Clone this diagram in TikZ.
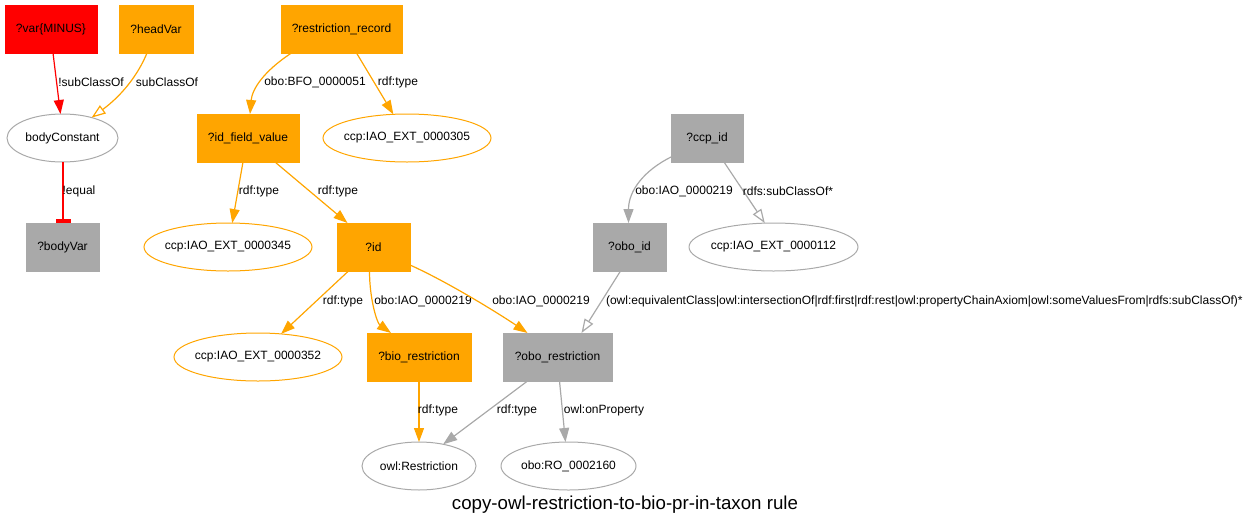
\documentclass[tikz,border=0pt]{standalone}
\usepackage{fontspec}
\setmainfont{Liberation Sans}
\usetikzlibrary{arrows.meta,shapes.geometric,calc}
\definecolor{gvorange}{HTML}{FFA500}
\definecolor{gvgray}{HTML}{A9A9A9}
\definecolor{gvred}{HTML}{FF0000}
\newcommand\zt[1]{\makebox[0pt]{#1}}
\begin{document}
\begin{tikzpicture}[x=1pt,y=-1pt,
 every node/.style={font=\fontsize{12}{14}\selectfont, inner sep=0pt, outer sep=0pt},
 box/.style={rectangle, minimum height=48pt, line width=1pt},
 orbox/.style={box, fill=gvorange, draw=gvorange},
 grbox/.style={box, fill=gvgray, draw=gvgray},
 rdbox/.style={box, fill=gvred, draw=gvred},
 oval/.style={ellipse, minimum height=48pt, draw, line width=1pt},
 orval/.style={oval, draw=gvorange},
 grval/.style={oval, draw=gvgray},
 oarr/.style={color=gvorange, line width=1.2pt, -{Triangle[length=14pt,width=10pt]}},
 garr/.style={color=gvgray, line width=1.2pt, -{Triangle[length=14pt,width=10pt]}},
 rarr/.style={color=gvred, line width=1.2pt, -{Triangle[length=14pt,width=10pt]}},
 ohol/.style={color=gvorange, line width=1.2pt, -{Triangle[open,length=14pt,width=10pt]}},
 ghol/.style={color=gvgray, line width=1.2pt, -{Triangle[open,length=14pt,width=10pt]}},
 rtee/.style={color=gvred, line width=1.3pt, -{Rectangle[length=4pt,width=15pt]}},
 lbl/.style={text=black}
]
\useasboundingbox (0,0) rectangle (1250,528);
% nodes
\node[rdbox, minimum width=92pt] (var) at (51,29) {?var\{MINUS\}};
\node[orbox, minimum width=74pt] (headVar) at (156,29) {?headVar};
\node[orbox, minimum width=121pt] (rr) at (341.5,29) {?restriction\_record};
\node[grval, minimum width=111pt] (bc) at (62.5,138) {\zt{bodyConstant}};
\node[orbox, minimum width=102pt] (idfv) at (248,138) {?id\_field\_value};
\node[orval, minimum width=168pt] (e305) at (407,138) {\zt{ccp:IAO\_EXT\_0000305}};
\node[grbox, minimum width=73pt] (bodyVar) at (62.5,247) {?bodyVar};
\node[orval, minimum width=168pt] (e345) at (228,247) {\zt{ccp:IAO\_EXT\_0000345}};
\node[orbox, minimum width=73pt] (id) at (373.5,247) {?id};
\node[grbox, minimum width=72pt] (ccp) at (707,138) {?ccp\_id};
\node[grbox, minimum width=73pt] (oboid) at (629.5,247) {?obo\_id};
\node[grval, minimum width=169pt] (e112) at (773.5,247) {\zt{ccp:IAO\_EXT\_0000112}};
\node[orval, minimum width=168pt] (e352) at (258,357) {\zt{ccp:IAO\_EXT\_0000352}};
\node[orbox, minimum width=104pt] (bio) at (419,357) {?bio\_restriction};
\node[grbox, minimum width=109pt] (obor) at (557.5,357) {?obo\_restriction};
\node[grval, minimum width=114pt] (restr) at (419,466) {\zt{owl:Restriction}};
\node[grval, minimum width=135pt] (ro) at (568.5,466) {\zt{obo:RO\_0002160}};
\node[font=\fontsize{18.7}{22}\selectfont] (title) at (625,505) {copy-owl-restriction-to-bio-pr-in-taxon rule};
% edges
\draw[rarr] ([xshift=2pt]var.south) -- ([xshift=-2pt]bc.north)
  node[lbl, at={(91,82)}] {!subClassOf};
\draw[ohol] ([xshift=-9pt]headVar.south) .. controls +(-9,22) and +(30,-22) .. (bc.35)
  node[lbl, at={(167,82)}] {subClassOf};
\draw[oarr] ([xshift=-50pt]rr.south) .. controls +(-29,19) and +(2,-24) .. ([xshift=2pt]idfv.north)
  node[lbl, at={(315,82)}] {obo:BFO\_0000051};
\draw[oarr] ([xshift=15pt]rr.south) -- (e305.120)
  node[lbl, at={(398,82)}] {rdf:type};
\draw[rtee] ([xshift=0.5pt]bc.south) -- ([xshift=0.5pt]bodyVar.north)
  node[lbl, at={(79,191)}] {!equal};
\draw[oarr] ([xshift=-5pt]idfv.south) -- (e345.80)
  node[lbl, at={(259,191)}] {rdf:type};
\draw[oarr] ([xshift=27pt]idfv.south) -- ([xshift=-26pt]id.north)
  node[lbl, at={(338,191)}] {rdf:type};
\draw[garr] ([yshift=5pt]ccp.south west) .. controls +(-26,13) and +(0,-33) .. ([xshift=-1pt]oboid.north)
  node[lbl, at={(684,191)}] {obo:IAO\_0000219};
\draw[ghol] ([xshift=17pt]ccp.south) -- (e112.110)
  node[lbl, at={(788,191)}] {rdfs:subClassOf*};
\draw[oarr] ([xshift=-25pt]id.south) -- (e352.45)
  node[lbl, at={(343,301)}] {rdf:type};
\draw[oarr] ([xshift=-4pt]id.south) .. controls +(0,28) and +(-14,-10) .. ([xshift=-28pt]bio.north)
  node[lbl, at={(423,301)}] {obo:IAO\_0000219};
\draw[oarr] ([yshift=-18pt]id.east) .. controls +(40,18) and +(-25,-17) .. ([xshift=-30pt]obor.north)
  node[lbl, at={(541,301)}] {obo:IAO\_0000219};
\draw[ghol] ([xshift=-9pt]oboid.south) -- ([xshift=24pt]obor.north)
  node[lbl, anchor=west, at={(606,301)}] {(owl:equivalentClass|owl:intersectionOf|rdf:first|rdf:rest|owl:propertyChainAxiom|owl:someValuesFrom|rdfs:subClassOf)*};
\draw[oarr] (bio.south) -- (restr.north)
  node[lbl, at={(438,410)}] {rdf:type};
\draw[garr] ([xshift=-30pt]obor.south) -- (restr.42)
  node[lbl, at={(517,410)}] {rdf:type};
\draw[garr] ([xshift=2pt]obor.south) -- ([xshift=-3pt]ro.north)
  node[lbl, at={(604,410)}] {owl:onProperty};
\end{tikzpicture}
\end{document}
